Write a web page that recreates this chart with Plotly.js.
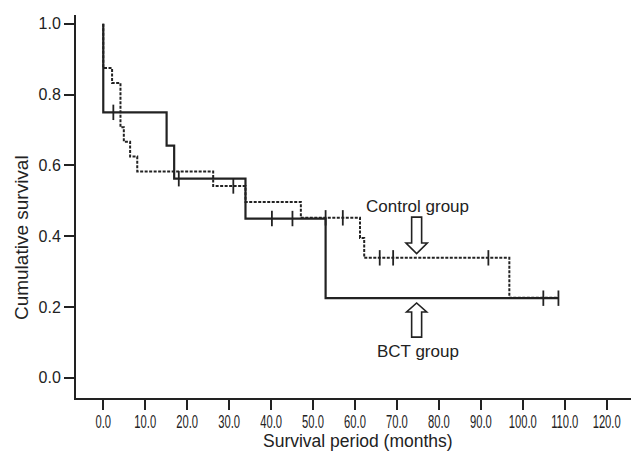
<!DOCTYPE html>
<html>
<head>
<meta charset="utf-8">
<script src="https://cdn.plot.ly/plotly-3.0.1.min.js"></script>
<style>
html,body{margin:0;padding:0;background:#fff;}
#chart{width:632px;height:452px;}
</style>
</head>
<body>
<div id="chart"></div>
<script>
// ---- data ----
const bctTime = [0, 0, 15.1, 16.9, 33.9, 53.0, 108.5];
const bctSurv = [1.0, 0.75, 0.656, 0.5625, 0.45, 0.225, 0.225];
const bctCensorTime = [2.4, 18.0, 40.2, 45.1, 104.9, 108.5];
const bctCensorSurv = [0.75, 0.5625, 0.45, 0.45, 0.225, 0.225];

const ctlTime = [0, 0, 2.1, 4.1, 4.9, 6.4, 8.1, 26.2, 33.9, 47.1, 61.2, 62.2, 96.8, 108.5];
const ctlSurv = [1.0, 0.875, 0.833, 0.708, 0.667, 0.625, 0.583, 0.542, 0.497, 0.452, 0.395, 0.339, 0.226, 0.226];
const ctlCensorTime = [31.0, 53.0, 57.1, 65.9, 69.1, 91.8];
const ctlCensorSurv = [0.542, 0.452, 0.452, 0.339, 0.339, 0.339];

const xTickVals = [0, 10, 20, 30, 40, 50, 60, 70, 80, 90, 100, 110, 120];
const xTickText = ["0.0","10.0","20.0","30.0","40.0","50.0","60.0","70.0","80.0","90.0","100.0","110.0","120.0"];
const yTickVals = [0, 0.2, 0.4, 0.6, 0.8, 1.0];
const yTickText = ["0.0","0.2","0.4","0.6","0.8","1.0"];

const xTitle = "Survival period (months)";
const yTitle = "Cumulative survival";
const labelControl = "Control group";
const labelBCT = "BCT group";

// ---- styling ----
const ink = '#222';
const font = 'Liberation Sans, Arial, sans-serif';

function arrowPath(cx, tipY, baseY, endY, halfShaft, halfHead) {
  return `M ${cx-halfShaft},${endY} L ${cx+halfShaft},${endY} L ${cx+halfShaft},${baseY} L ${cx+halfHead},${baseY} L ${cx},${tipY} L ${cx-halfHead},${baseY} L ${cx-halfShaft},${baseY} Z`;
}

const traces = [
  {x: bctTime, y: bctSurv, mode: 'lines', line: {shape: 'hv', color: ink, width: 2.2}, hoverinfo: 'skip'},
  {x: ctlTime, y: ctlSurv, mode: 'lines', line: {shape: 'hv', color: ink, width: 2, dash: '3px,1.5px'}, hoverinfo: 'skip'},
  {x: bctCensorTime, y: bctCensorSurv, mode: 'markers', marker: {symbol: 'line-ns', size: 11, line: {color: ink, width: 1.8}}, hoverinfo: 'skip'},
  {x: ctlCensorTime, y: ctlCensorSurv, mode: 'markers', marker: {symbol: 'line-ns', size: 11, line: {color: ink, width: 1.8}}, hoverinfo: 'skip'}
];

const layout = {
  width: 632, height: 452,
  margin: {l: 76, r: 1, t: 15, b: 54},
  paper_bgcolor: '#fff', plot_bgcolor: '#fff',
  showlegend: false,
  font: {family: font, color: ink},
  xaxis: {
    range: [-6.5, 125.8],
    tickvals: xTickVals, ticktext: xTickText,
    tickangle: 0,
    ticks: 'outside', ticklen: 10, tickwidth: 2, tickcolor: ink,
    showline: true, linewidth: 2, linecolor: ink,
    showgrid: false, zeroline: false,
    tickfont: {size: 17.5, color: ink}
  },
  yaxis: {
    range: [-0.057, 1.025],
    tickvals: yTickVals, ticktext: yTickText,
    ticks: 'outside', ticklen: 10, tickwidth: 2, tickcolor: ink,
    showline: true, linewidth: 2, linecolor: ink,
    showgrid: false, zeroline: false,
    tickfont: {size: 16, color: ink}
  },
  annotations: [
    {x: 75, y: 0.485, xref: 'x', yref: 'y', text: labelControl, showarrow: false, font: {size: 17, color: ink}},
    {x: 75, y: 0.073, xref: 'x', yref: 'y', text: labelBCT, showarrow: false, font: {size: 17, color: ink}},
    {x: 0.508, y: -0.112, xref: 'paper', yref: 'paper', xanchor: 'center', yanchor: 'middle', text: xTitle, showarrow: false, font: {size: 17.5, color: ink}},
    {x: -0.097, y: 0.418, xref: 'paper', yref: 'paper', xanchor: 'center', yanchor: 'middle', textangle: -90, text: yTitle, showarrow: false, font: {size: 19, color: ink}}
  ],
  shapes: [
    {type: 'path', xref: 'x', yref: 'y', path: arrowPath(74.7, 0.351, 0.381, 0.454, 1.19, 2.54), line: {color: ink, width: 1.6}, fillcolor: '#fff'},
    {type: 'path', xref: 'x', yref: 'y', path: arrowPath(74.7, 0.2115, 0.186, 0.115, 1.19, 2.4), line: {color: ink, width: 1.6}, fillcolor: '#fff'}
  ]
};

Plotly.newPlot('chart', traces, layout, {staticPlot: true, displayModeBar: false}).then(function () {
  // condensed look of the x tick labels, as in the reference
  document.querySelectorAll('#chart .xtick text').forEach(function (t) {
    const tr = t.getAttribute('transform') || '';
    const xv = parseFloat(t.getAttribute('x') || '0');
    t.setAttribute('transform', tr + ' translate(' + xv + ',-3) scale(0.64,1) translate(' + (-xv) + ',0)');
  });
});
</script>
</body>
</html>
